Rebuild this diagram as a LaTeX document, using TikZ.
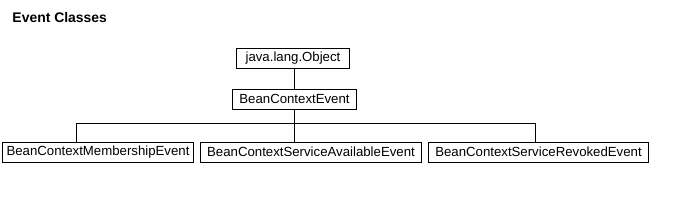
\documentclass[tikz,border=0pt]{standalone}
\usepackage{fontspec}
\setmainfont{Liberation Sans}
\usepackage{tikz}
\usetikzlibrary{positioning}

\begin{document}
\begin{tikzpicture}[x=0.025cm, y=-0.025cm, line width=0.7pt,
  every node/.style={font=\fontsize{9.4}{11}\selectfont},
  classbox/.style={draw, line width=0.7pt, inner sep=0pt, minimum height=0.5cm}]
  \useasboundingbox (0,0) rectangle (700,200);
  \node[anchor=base west, inner sep=0pt, font=\bfseries\fontsize{9.9}{11}\selectfont] (title) at (12,22) {Event Classes};
  \node[classbox, minimum width=2.8cm] (object) at (293,58.5) {java.lang.Object};
  \node[classbox, minimum width=3.075cm] (bce) at (294.5,99) {BeanContextEvent};
  \node[classbox, minimum width=4.75cm] (member) at (98,152) {BeanContextMembershipEvent};
  \node[classbox, minimum width=5.5cm] (avail) at (311,152) {BeanContextServiceAvailableEvent};
  \node[classbox, minimum width=5.475cm] (revoked) at (538.5,152) {BeanContextServiceRevokedEvent};
  \coordinate (busL) at (76,123);
  \coordinate (busR) at (535,123);
  \draw (object.south -| bce.south) -- (bce.north -| bce.south);
  \draw (bce.south) -- (bce.south |- avail.north);
  \draw (busL) -- (busR);
  \draw (busL) -- (busL |- member.north);
  \draw (busR) -- (busR |- revoked.north);
\end{tikzpicture}
\end{document}
